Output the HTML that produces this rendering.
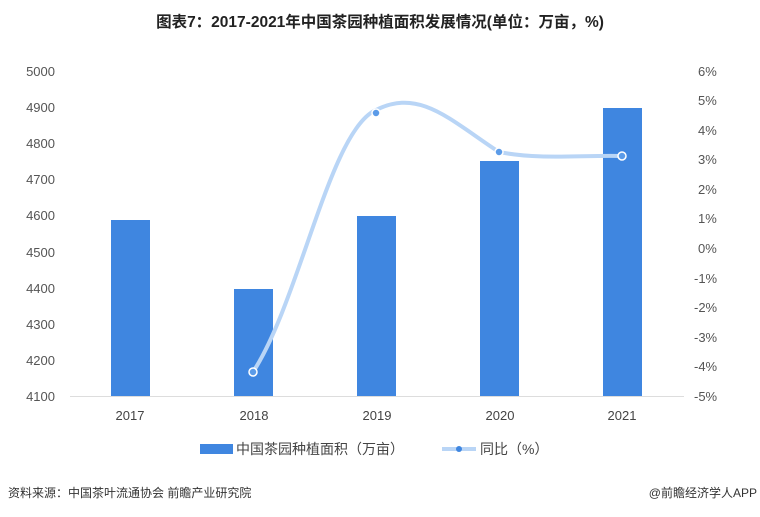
<!DOCTYPE html>
<html><head><meta charset="utf-8"><style>
body{margin:0;width:760px;height:512px;background:#fff;overflow:hidden;font-family:"Liberation Sans","Noto Sans CJK SC",sans-serif}
</style></head><body>
<svg width="760" height="512" xmlns="http://www.w3.org/2000/svg" font-family="Liberation Sans, Noto Sans CJK SC, sans-serif">
<text x="380" y="27" text-anchor="middle" font-size="15.5" font-weight="bold" fill="#222">图表7：2017-2021年中国茶园种植面积发展情况(单位：万亩，%)</text>
<g font-size="13" fill="#555" text-anchor="end">
<text x="55" y="76">5000</text><text x="55" y="112">4900</text><text x="55" y="148">4800</text><text x="55" y="184">4700</text><text x="55" y="220">4600</text><text x="55" y="257">4500</text><text x="55" y="293">4400</text><text x="55" y="329">4300</text><text x="55" y="365">4200</text><text x="55" y="401">4100</text>
</g>
<g font-size="13" fill="#555" text-anchor="start">
<text x="698" y="76">6%</text><text x="698" y="105">5%</text><text x="698" y="135">4%</text><text x="698" y="164">3%</text><text x="698" y="194">2%</text><text x="698" y="223">1%</text><text x="698" y="253">0%</text><text x="694" y="283">-1%</text><text x="694" y="312">-2%</text><text x="694" y="342">-3%</text><text x="694" y="371">-4%</text><text x="694" y="401">-5%</text>
</g>
<line x1="70" y1="396.5" x2="684" y2="396.5" stroke="#ddd"/>
<g fill="#3f86e0">
<rect x="111" y="220" width="39" height="176"/>
<rect x="234" y="289" width="39" height="107"/>
<rect x="357" y="216" width="39" height="180"/>
<rect x="480" y="161" width="39" height="235"/>
<rect x="603" y="108" width="39" height="288"/>
</g>
<path d="M253,372 C300,300 330,130 376,110 C420,88 450,120 499,152 C540,160 580,155 622,156" fill="none" stroke="#b9d5f6" stroke-width="4"/>
<g fill="#5b9be8" stroke="#fff" stroke-width="1.5">
<circle cx="253" cy="372" r="4"/><circle cx="376" cy="113" r="4"/><circle cx="499" cy="152" r="4"/><circle cx="622" cy="156" r="4"/>
</g>
<g font-size="13" fill="#444" text-anchor="middle">
<text x="130" y="420">2017</text><text x="254" y="420">2018</text><text x="377" y="420">2019</text><text x="500" y="420">2020</text><text x="622" y="420">2021</text>
</g>
<rect x="200" y="444" width="33" height="10" fill="#3f86e0"/>
<text x="236" y="454" font-size="14" fill="#444">中国茶园种植面积（万亩）</text>
<line x1="442" y1="449" x2="476" y2="449" stroke="#b9d5f6" stroke-width="4"/>
<circle cx="459" cy="449" r="3" fill="#3f86e0"/>
<text x="480" y="454" font-size="14" fill="#444">同比（%）</text>
<text x="8" y="497" font-size="12" fill="#333">资料来源：中国茶叶流通协会 前瞻产业研究院</text>
<text x="757" y="497" font-size="12" fill="#333" text-anchor="end">@前瞻经济学人APP</text>
</svg>
</body></html>
